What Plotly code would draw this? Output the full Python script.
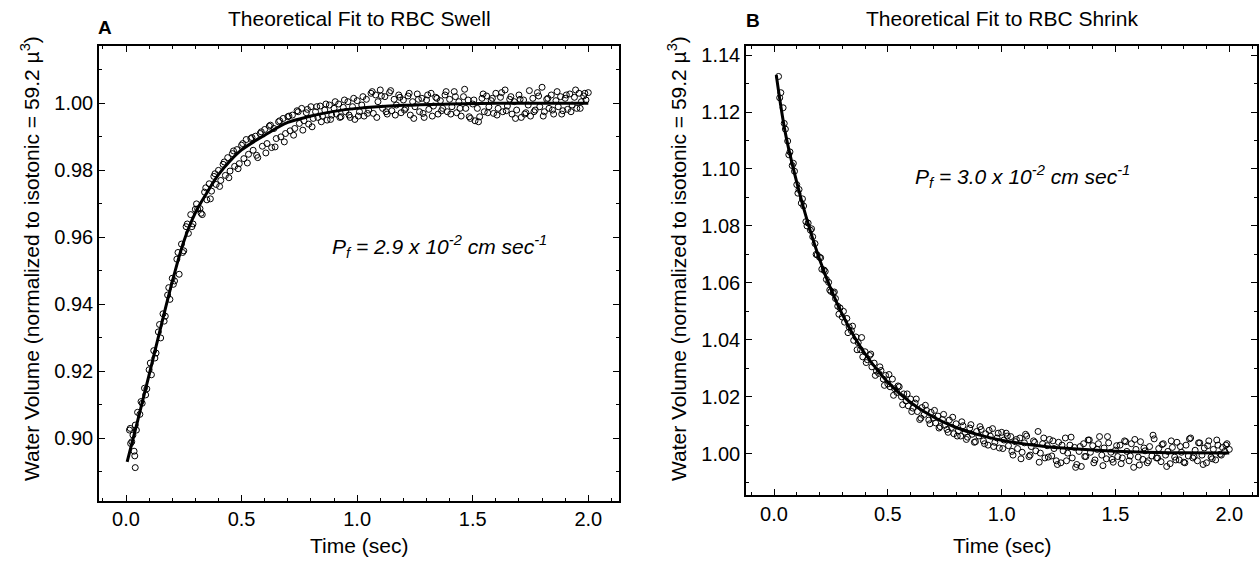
import plotly.graph_objects as go

# ---------------- data ----------------
time_s = [
    0.02, 0.03, 0.04, 0.05, 0.06, 0.07, 0.08, 0.09, 0.10, 0.11,
    0.12, 0.13, 0.14, 0.15, 0.16, 0.17, 0.18, 0.19, 0.20, 0.21,
    0.22, 0.23, 0.24, 0.25, 0.26, 0.27, 0.28, 0.29, 0.30, 0.31,
    0.32, 0.33, 0.34, 0.35, 0.36, 0.37, 0.38, 0.39, 0.40, 0.41,
    0.42, 0.43, 0.44, 0.45, 0.46, 0.47, 0.48, 0.49, 0.50, 0.51,
    0.52, 0.53, 0.54, 0.55, 0.56, 0.57, 0.58, 0.59, 0.60, 0.61,
    0.62, 0.63, 0.64, 0.65, 0.66, 0.67, 0.68, 0.69, 0.70, 0.71,
    0.72, 0.73, 0.74, 0.75, 0.76, 0.77, 0.78, 0.79, 0.80, 0.81,
    0.82, 0.83, 0.84, 0.85, 0.86, 0.87, 0.88, 0.89, 0.90, 0.91,
    0.92, 0.93, 0.94, 0.95, 0.96, 0.97, 0.98, 0.99, 1.00, 1.01,
    1.02, 1.03, 1.04, 1.05, 1.06, 1.07, 1.08, 1.09, 1.10, 1.11,
    1.12, 1.13, 1.14, 1.15, 1.16, 1.17, 1.18, 1.19, 1.20, 1.21,
    1.22, 1.23, 1.24, 1.25, 1.26, 1.27, 1.28, 1.29, 1.30, 1.31,
    1.32, 1.33, 1.34, 1.35, 1.36, 1.37, 1.38, 1.39, 1.40, 1.41,
    1.42, 1.43, 1.44, 1.45, 1.46, 1.47, 1.48, 1.49, 1.50, 1.51,
    1.52, 1.53, 1.54, 1.55, 1.56, 1.57, 1.58, 1.59, 1.60, 1.61,
    1.62, 1.63, 1.64, 1.65, 1.66, 1.67, 1.68, 1.69, 1.70, 1.71,
    1.72, 1.73, 1.74, 1.75, 1.76, 1.77, 1.78, 1.79, 1.80, 1.81,
    1.82, 1.83, 1.84, 1.85, 1.86, 1.87, 1.88, 1.89, 1.90, 1.91,
    1.92, 1.93, 1.94, 1.95, 1.96, 1.97, 1.98, 1.99, 2.00,
]

time_half = [
    0.025, 0.045, 0.065, 0.085, 0.105, 0.125, 0.145, 0.165, 0.185, 0.205,
    0.225, 0.245, 0.265, 0.285, 0.305, 0.325, 0.345, 0.365, 0.385, 0.405,
    0.425, 0.445, 0.465, 0.485, 0.505, 0.525, 0.545, 0.565, 0.585, 0.605,
    0.625, 0.645, 0.665, 0.685, 0.705, 0.725, 0.745, 0.765, 0.785, 0.805,
    0.825, 0.845, 0.865, 0.885, 0.905, 0.925, 0.945, 0.965, 0.985, 1.005,
    1.025, 1.045, 1.065, 1.085, 1.105, 1.125, 1.145, 1.165, 1.185, 1.205,
    1.225, 1.245, 1.265, 1.285, 1.305, 1.325, 1.345, 1.365, 1.385, 1.405,
    1.425, 1.445, 1.465, 1.485, 1.505, 1.525, 1.545, 1.565, 1.585, 1.605,
    1.625, 1.645, 1.665, 1.685, 1.705, 1.725, 1.745, 1.765, 1.785, 1.805,
    1.825, 1.845, 1.865, 1.885, 1.905, 1.925, 1.945, 1.965, 1.985,
]

swell_early_t = [0.015, 0.018, 0.035, 0.038, 0.040]
swell_early_v = [0.9025, 0.9030, 0.8962, 0.8948, 0.8913]

swell_v = [
    0.8985, 0.9010, 0.9040, 0.9078, 0.9072, 0.9105, 0.9150, 0.9148, 0.9205, 0.9190,
    0.9262, 0.9255, 0.9318, 0.9300, 0.9372, 0.9365, 0.9428, 0.9415, 0.9478, 0.9470,
    0.9535, 0.9490, 0.9580, 0.9560, 0.9632, 0.9612, 0.9668, 0.9640, 0.9684, 0.9685,
    0.9686, 0.9668, 0.9735, 0.9712, 0.9760, 0.9738, 0.9782, 0.9758, 0.9800, 0.9770,
    0.9818, 0.9785, 0.9838, 0.9798, 0.9850, 0.9812, 0.9862, 0.9820, 0.9875, 0.9835,
    0.9892, 0.9848, 0.9895, 0.9860, 0.9902, 0.9838, 0.9910, 0.9872, 0.9922, 0.9880,
    0.9932, 0.9868, 0.9925, 0.9895, 0.9945, 0.9900, 0.9955, 0.9910, 0.9960, 0.9918,
    0.9965, 0.9925, 0.9978, 0.9940, 0.9985, 0.9948, 0.9972, 0.9938, 0.9990, 0.9955,
    0.9975, 0.9958, 0.9992, 0.9962, 0.9980, 0.9950, 0.9995, 0.9965, 0.9985, 0.9968,
    0.9998, 0.9960, 0.9988, 0.9975, 1.0005, 0.9958, 0.9990, 0.9952, 1.0008, 0.9975,
    0.9995, 0.9962, 1.0012, 0.9980, 1.0030, 0.9970, 1.0025, 1.0005, 1.0040, 0.9985,
    1.0020, 0.9968, 1.0032, 0.9978, 1.0012, 0.9995, 1.0025, 0.9972, 1.0010, 0.9985,
    1.0022, 0.9965, 1.0005, 0.9990, 1.0028, 0.9975, 1.0015, 0.9958, 1.0010, 0.9982,
    1.0030, 0.9992, 1.0018, 0.9968, 1.0008, 0.9985, 1.0025, 0.9975, 1.0012, 0.9990,
    1.0035, 0.9972, 1.0005, 0.9962, 1.0020, 0.9985, 1.0010, 0.9955, 0.9998, 0.9948,
    0.9985, 0.9960, 1.0015, 0.9975, 1.0022, 0.9990, 1.0008, 0.9970, 1.0030, 0.9985,
    1.0018, 0.9975, 1.0040, 0.9992, 1.0012, 0.9968, 1.0005, 0.9980, 1.0025, 0.9958,
    1.0010, 0.9972, 0.9995, 0.9962, 1.0015, 0.9980, 1.0032, 0.9990, 1.0048, 0.9975,
    1.0012, 0.9985, 1.0025, 0.9968, 1.0008, 0.9990, 1.0020, 0.9978, 1.0015, 0.9982,
    1.0028, 0.9995, 1.0018, 0.9985, 1.0030, 1.0005, 1.0022, 1.0010, 1.0032,
]

swell_half_v = [
    0.8990, 0.9025, 0.9110, 0.9130, 0.9225, 0.9240, 0.9340, 0.9350, 0.9450, 0.9460,
    0.9555, 0.9555, 0.9640, 0.9632, 0.9700, 0.9672, 0.9748, 0.9715, 0.9790, 0.9752,
    0.9825, 0.9778, 0.9858, 0.9805, 0.9880, 0.9822, 0.9898, 0.9845, 0.9915, 0.9852,
    0.9935, 0.9870, 0.9948, 0.9885, 0.9962, 0.9905, 0.9975, 0.9920, 0.9982, 0.9930,
    0.9990, 0.9945, 0.9998, 0.9952, 1.0005, 0.9958, 1.0010, 0.9965, 1.0015, 0.9962,
    1.0020, 0.9970, 1.0035, 0.9958, 1.0022, 0.9975, 1.0038, 0.9965, 1.0018, 0.9980,
    1.0030, 0.9955, 1.0012, 0.9970, 1.0025, 0.9962, 1.0015, 0.9978, 1.0035, 0.9968,
    1.0020, 0.9985, 1.0042, 0.9960, 1.0010, 0.9945, 1.0028, 0.9972, 1.0015, 0.9965,
    1.0032, 0.9978, 1.0020, 0.9955, 1.0012, 0.9968, 1.0038, 0.9975, 1.0022, 0.9962,
    1.0015, 0.9980, 1.0035, 0.9968, 1.0025, 0.9975, 1.0040, 0.9985, 1.0030,
]

shrink_v = [
    1.1325, 1.1268, 1.1215, 1.1140, 1.1098, 1.1060, 1.1012, 1.0992, 1.0945, 1.0928,
    1.0880, 1.0870, 1.0815, 1.0810, 1.0785, 1.0762, 1.0738, 1.0698, 1.0690, 1.0648,
    1.0645, 1.0612, 1.0602, 1.0570, 1.0565, 1.0545, 1.0518, 1.0512, 1.0480, 1.0462,
    1.0475, 1.0445, 1.0432, 1.0398, 1.0410, 1.0390, 1.0365, 1.0340, 1.0358, 1.0330,
    1.0345, 1.0305, 1.0318, 1.0290, 1.0282, 1.0292, 1.0262, 1.0275, 1.0245, 1.0235,
    1.0262, 1.0228, 1.0215, 1.0235, 1.0200, 1.0210, 1.0185, 1.0168, 1.0192, 1.0160,
    1.0178, 1.0148, 1.0120, 1.0162, 1.0138, 1.0152, 1.0118, 1.0145, 1.0125, 1.0108,
    1.0132, 1.0095, 1.0120, 1.0100, 1.0085, 1.0118, 1.0092, 1.0070, 1.0105, 1.0080,
    1.0062, 1.0098, 1.0075, 1.0058, 1.0090, 1.0068, 1.0040, 1.0078, 1.0062, 1.0085,
    1.0045, 1.0070, 1.0030, 1.0062, 1.0088, 1.0040, 1.0055, 1.0020, 1.0075, 1.0048,
    1.0072, 1.0028, 1.0060, 0.9995, 1.0042, 1.0018, 1.0055, 1.0005, 1.0038, 1.0062,
    0.9990, 1.0025, 1.0045, 1.0010, 1.0078, 1.0002, 1.0035, 0.9985, 1.0028, 1.0050,
    0.9992, 1.0018, 0.9975, 1.0040, 0.9968, 1.0010, 1.0055, 1.0002, 1.0030, 0.9985,
    1.0022, 0.9962, 1.0008, 0.9955, 1.0035, 0.9990, 1.0048, 1.0005, 1.0028, 0.9978,
    1.0015, 1.0060, 0.9995, 1.0020, 0.9982, 1.0038, 1.0005, 0.9970, 1.0012, 0.9990,
    1.0030, 0.9985, 1.0045, 1.0008, 0.9975, 1.0035, 0.9952, 1.0015, 0.9988, 1.0042,
    0.9980, 1.0010, 0.9968, 1.0025, 0.9992, 1.0052, 0.9985, 1.0018, 0.9972, 1.0035,
    0.9995, 1.0008, 0.9965, 1.0022, 0.9988, 1.0040, 0.9978, 1.0005, 0.9970, 1.0030,
    0.9992, 1.0055, 0.9985, 1.0012, 0.9975, 1.0038, 0.9995, 1.0020, 0.9968, 1.0045,
    0.9988, 1.0015, 0.9978, 1.0030, 0.9998, 1.0022, 1.0008, 1.0035, 1.0015,
]

shrink_half_v = [
    1.1250, 1.1160, 1.1050, 1.1020, 1.0915, 1.0895, 1.0800, 1.0790, 1.0700, 1.0688,
    1.0640, 1.0575, 1.0568, 1.0490, 1.0500, 1.0425, 1.0448, 1.0365, 1.0408, 1.0320,
    1.0350, 1.0275, 1.0305, 1.0240, 1.0278, 1.0205, 1.0238, 1.0172, 1.0210, 1.0148,
    1.0192, 1.0125, 1.0170, 1.0105, 1.0152, 1.0090, 1.0138, 1.0075, 1.0128, 1.0062,
    1.0112, 1.0050, 1.0102, 1.0042, 1.0095, 1.0035, 1.0082, 1.0025, 1.0072, 1.0018,
    1.0062, 1.0008, 1.0050, 0.9982, 1.0068, 0.9995, 1.0040, 0.9970, 1.0055, 0.9988,
    1.0045, 0.9962, 1.0030, 0.9975, 1.0058, 0.9952, 1.0025, 0.9990, 1.0048, 0.9968,
    1.0035, 0.9958, 1.0060, 0.9980, 1.0028, 0.9965, 1.0042, 0.9992, 1.0050, 0.9960,
    1.0020, 0.9975, 1.0065, 0.9985, 1.0032, 0.9955, 1.0045, 0.9978, 1.0025, 0.9968,
    1.0052, 0.9990, 1.0038, 0.9962, 1.0028, 0.9982, 1.0048, 0.9995, 1.0030,
]

swell_fit_t = [0.005, 0.05, 0.10, 0.15, 0.20, 0.25, 0.30, 0.35, 0.40, 0.45, 0.50,
               0.60, 0.70, 0.80, 0.90, 1.00, 1.20, 1.40, 1.60, 1.80, 2.00]
swell_fit_v = [0.8930, 0.9052, 0.9190, 0.9331, 0.9467, 0.9588, 0.9673, 0.9733, 0.9787, 0.9828, 0.9861,
               0.9905, 0.9943, 0.9962, 0.9976, 0.9985, 0.9994, 0.9998, 1.0000, 1.0000, 1.0000]

shrink_fit_t = [0.01, 0.05, 0.10, 0.15, 0.20, 0.25, 0.30, 0.35, 0.40, 0.50,
                0.60, 0.70, 0.80, 0.90, 1.00, 1.20, 1.40, 1.60, 1.80, 2.00]
shrink_fit_v = [1.1330, 1.1126, 1.0953, 1.0807, 1.0683, 1.0578, 1.0489, 1.0414, 1.0351, 1.0251,
                1.0180, 1.0129, 1.0092, 1.0066, 1.0047, 1.0024, 1.0013, 1.0006, 1.0003, 1.0002]

x_ticks = [0.0, 0.5, 1.0, 1.5, 2.0]
swell_y_ticks = [0.90, 0.92, 0.94, 0.96, 0.98, 1.00]
shrink_y_ticks = [1.00, 1.02, 1.04, 1.06, 1.08, 1.10, 1.12, 1.14]

titles = ["Theoretical Fit to RBC Swell", "Theoretical Fit to RBC Shrink"]
panel_labels = ["A", "B"]
x_title = "Time (sec)"
y_title = "Water Volume (normalized to isotonic = 59.2 \u00b5<sup>3</sup>)"
pf_texts = ["<i>P<sub>f</sub> = 2.9 x 10<sup>-2</sup> cm sec<sup>-1</sup></i>",
            "<i>P<sub>f</sub> = 3.0 x 10<sup>-2</sup> cm sec<sup>-1</sup></i>"]

# ---------------- figure ----------------
W, H = 1259, 562
FONT = "Liberation Sans, Arial, Helvetica, sans-serif"
NARROW = "Liberation Sans Narrow, Liberation Sans, Arial"


def px(x):
    return x / W


def py(y):
    return 1 - y / H


fig = go.Figure()

marker = dict(symbol="circle-open", size=6, color="black", line=dict(width=1, color="black"))

fig.add_trace(go.Scatter(x=swell_early_t + time_s + time_half,
                         y=swell_early_v + swell_v + swell_half_v, mode="markers",
                         marker=marker, xaxis="x", yaxis="y", showlegend=False))
fig.add_trace(go.Scatter(x=swell_fit_t, y=swell_fit_v, mode="lines",
                         line=dict(color="black", width=3, shape="spline"),
                         xaxis="x", yaxis="y", showlegend=False))
fig.add_trace(go.Scatter(x=time_s + time_half, y=shrink_v + shrink_half_v, mode="markers",
                         marker=marker, xaxis="x2", yaxis="y2", showlegend=False))
fig.add_trace(go.Scatter(x=shrink_fit_t, y=shrink_fit_v, mode="lines",
                         line=dict(color="black", width=3, shape="spline"),
                         xaxis="x2", yaxis="y2", showlegend=False))


def axis(domain, rng, tickvals, fmt, minor_dtick, anchor):
    return dict(
        domain=domain, range=rng, tickvals=tickvals, tickformat=fmt, anchor=anchor,
        showgrid=False, zeroline=False, showline=True, linecolor="black", linewidth=1.5,
        mirror="allticks", ticks="inside", ticklen=6, tickwidth=1.2, tickcolor="black",
        tickfont=dict(family=FONT, size=20, color="black"),
        minor=dict(dtick=minor_dtick, tick0=0, ticks="inside", ticklen=3, tickwidth=1,
                   tickcolor="black", showgrid=False),
    )


fig.update_layout(
    width=W, height=H, margin=dict(l=0, r=0, t=0, b=0),
    paper_bgcolor="white", plot_bgcolor="white", showlegend=False,
    xaxis=axis([px(99), px(619)], [-0.1168, 2.1328], x_ticks, ".1f", 0.1, "y"),
    yaxis=axis([py(500.5), py(44.3)], [0.88142, 1.01707], swell_y_ticks, ".2f", 0.01, "x"),
    xaxis2=axis([px(746), px(1257)], [-0.123, 2.1217], x_ticks, ".1f", 0.1, "y2"),
    yaxis2=axis([py(495), py(44.3)], [0.98540, 1.14315], shrink_y_ticks, ".2f", 0.01, "x2"),
)

ann = []
for i, (cx, axl) in enumerate([(359, 99), (1002, 746)]):
    ann.append(dict(text=titles[i], x=px(cx), y=py(17), xref="paper", yref="paper",
                    xanchor="center", yanchor="middle", showarrow=False,
                    font=dict(family=FONT, size=21, color="black")))
    ann.append(dict(text=x_title, x=px(cx), y=py(545), xref="paper", yref="paper",
                    xanchor="center", yanchor="middle", showarrow=False,
                    font=dict(family=FONT, size=21, color="black")))
    ann.append(dict(text=y_title, x=px(axl - 69), y=py(258), xref="paper", yref="paper",
                    xanchor="center", yanchor="middle", textangle=-90, showarrow=False,
                    font=dict(family=FONT, size=21, color="black")))

ann.append(dict(text="<b>" + panel_labels[0] + "</b>", x=px(104.5), y=py(26), xref="paper", yref="paper",
                xanchor="center", yanchor="middle", showarrow=False,
                font=dict(family=NARROW, size=19, color="black")))
ann.append(dict(text="<b>" + panel_labels[1] + "</b>", x=px(753), y=py(19), xref="paper", yref="paper",
                xanchor="center", yanchor="middle", showarrow=False,
                font=dict(family=NARROW, size=19, color="black")))
ann.append(dict(text=pf_texts[0], x=px(330), y=py(245), xref="paper", yref="paper",
                xanchor="left", yanchor="middle", showarrow=False,
                font=dict(family=FONT, size=21, color="black")))
ann.append(dict(text=pf_texts[1], x=px(913), y=py(175), xref="paper", yref="paper",
                xanchor="left", yanchor="middle", showarrow=False,
                font=dict(family=FONT, size=21, color="black")))

fig.update_layout(annotations=ann)
fig.write_html("out.html")
